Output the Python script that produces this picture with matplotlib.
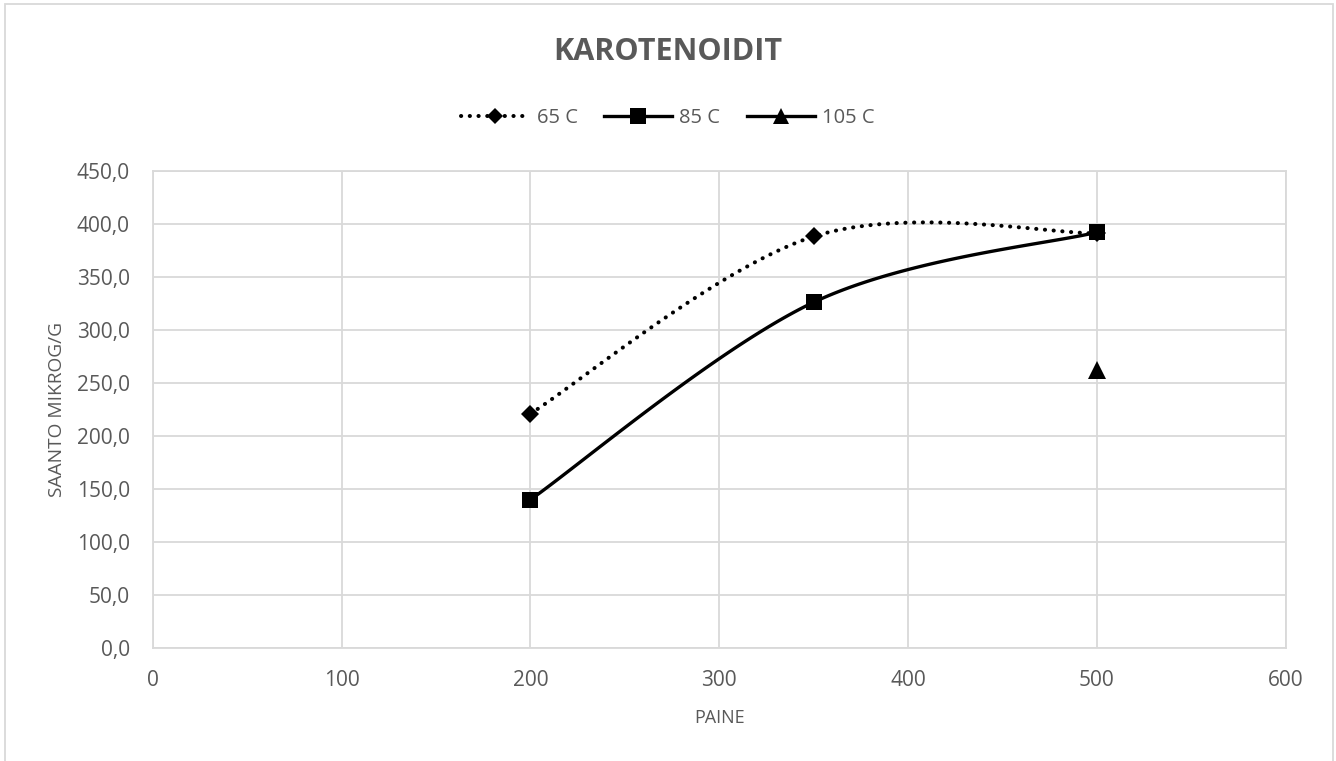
import numpy as np
import matplotlib
matplotlib.use("Agg")
import matplotlib.pyplot as plt
from matplotlib.lines import Line2D
from matplotlib.patches import Rectangle

# Carotenoid yield (µg/g) against pressure for three extraction temperatures
pressure_65 = [200, 350, 500]
yield_65 = [221.0, 388.0, 391.0]
pressure_85 = [200, 350, 500]
yield_85 = [140.0, 326.0, 392.0]
pressure_105 = [500]
yield_105 = [262.0]
series_labels = ["65 C", "85 C", "105 C"]

x_ticks = [0, 100, 200, 300, 400, 500, 600]
y_ticks = [0, 50, 100, 150, 200, 250, 300, 350, 400, 450]

TEXT = "#595959"
GRID = "#d9d9d9"
plt.rcParams["font.family"] = ["Open Sans", "DejaVu Sans"]


def smooth_curve(xs, ys, n=60):
    """Bezier smoothing through the points (Catmull-Rom style control points)."""
    pts = np.column_stack([xs, ys]).astype(float)
    if len(pts) < 2:
        return pts[:, 0], pts[:, 1]
    out = [pts[0]]
    t = np.linspace(0, 1, n)[1:, None]
    for i in range(len(pts) - 1):
        p0 = pts[max(i - 1, 0)]
        p1 = pts[i]
        p2 = pts[i + 1]
        p3 = pts[min(i + 2, len(pts) - 1)]
        c1 = p1 + (p2 - p0) / 6.0
        c2 = p2 - (p3 - p1) / 6.0
        seg = ((1 - t) ** 3) * p1 + 3 * ((1 - t) ** 2) * t * c1 \
            + 3 * (1 - t) * (t ** 2) * c2 + (t ** 3) * p2
        out.extend(seg)
    out = np.array(out)
    return out[:, 0], out[:, 1]


fig = plt.figure(figsize=(13.36, 7.61), dpi=100)
ax = fig.add_axes([0.1143, 0.1481, 0.8480, 0.6276])

dot_lw = 2.9
dotted = (0, (0.05, 2.12))
lw = 2.4

sx, sy = smooth_curve(pressure_65, yield_65)
ax.plot(sx, sy, color="black", lw=dot_lw, linestyle=dotted, dash_capstyle="round", zorder=3)
sx, sy = smooth_curve(pressure_85, yield_85)
ax.plot(sx, sy, color="black", lw=lw, solid_capstyle="round", zorder=3)

ax.plot(pressure_65, yield_65, linestyle="none", marker="D", markersize=9.3,
        color="black", markeredgewidth=0, zorder=4)
ax.plot(pressure_85, yield_85, linestyle="none", marker="s", markersize=11.8,
        color="black", markeredgewidth=0, zorder=4)
ax.plot(pressure_105, yield_105, linestyle="none", marker="^", markersize=12.3,
        color="black", markeredgewidth=0, zorder=4)

ax.set_xlim(0, 600)
ax.set_ylim(0, 450)
ax.set_xticks(x_ticks)
ax.set_yticks(y_ticks)
ax.set_xticklabels([str(v) for v in x_ticks])
ax.set_yticklabels([f"{v:.1f}".replace(".", ",") for v in y_ticks])
ax.tick_params(length=0, labelsize=15, colors=TEXT)
ax.tick_params(axis="x", pad=15.5)
ax.tick_params(axis="y", pad=16.5)
ax.grid(True, color=GRID, lw=1.3, zorder=0)
ax.set_axisbelow(True)
for sp in ax.spines.values():
    sp.set_color(GRID)
    sp.set_linewidth(1.3)

ax.set_xlabel("PAINE", fontsize=13, color=TEXT, labelpad=13)
ax.set_ylabel("SAANTO MIKROG/G", fontsize=13.8, color=TEXT, labelpad=8)

fig.text(0.5, 1 - 52 / 761, "KAROTENOIDIT", ha="center", va="center",
         fontsize=22, fontweight="bold", color=TEXT)

handles = [
    Line2D([], [], color="black", lw=dot_lw, linestyle=dotted, dash_capstyle="round",
           marker="D", markersize=8.5, markeredgewidth=0),
    Line2D([], [], color="black", lw=lw, marker="s", markersize=11.5, markeredgewidth=0),
    Line2D([], [], color="black", lw=lw, marker="^", markersize=11.5, markeredgewidth=0),
]
fig.legend(handles, series_labels, loc="center", bbox_to_anchor=(0.5, 1 - 118 / 761),
           ncol=3, frameon=False, fontsize=14.5, labelcolor=TEXT, handlelength=3.4,
           handletextpad=0.35, columnspacing=1.3)

# light frame around the whole chart area
fig.patches.append(Rectangle((4.5 / 1336, -0.05), (1333 - 4.5) / 1336, 1.05 - 4.5 / 761,
                             transform=fig.transFigure, fill=False, edgecolor=GRID,
                             lw=1.3, zorder=0))

fig.savefig("out.png", dpi=100, facecolor="white")
